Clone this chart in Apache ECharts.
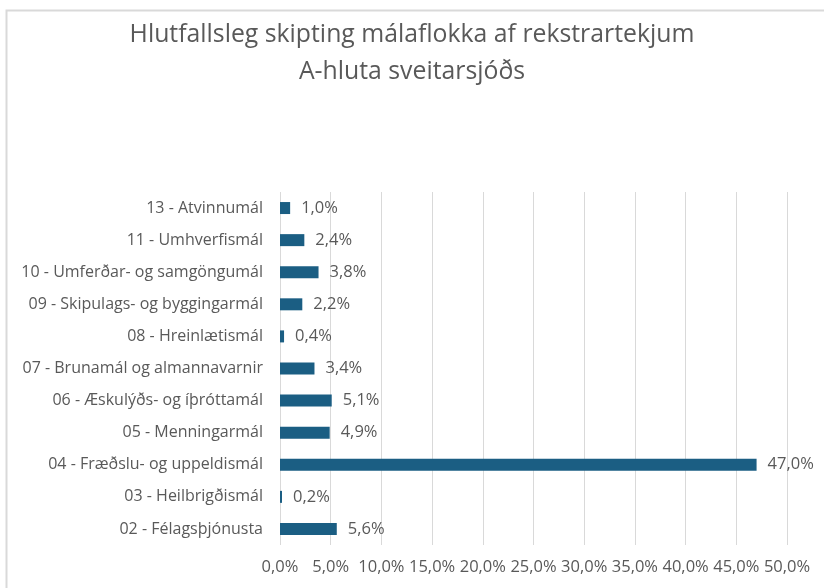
<!DOCTYPE html>
<html>
<head>
<meta charset="utf-8">
<script src="https://cdn.jsdelivr.net/npm/echarts@6/dist/echarts.min.js"></script>
<style>
html,body{margin:0;padding:0;background:#fff;}
#chart{width:824px;height:588px;}
</style>
</head>
<body>
<div id="chart"></div>
<script>
const titleLines = ['Hlutfallsleg skipting málaflokka af rekstrartekjum', 'A-hluta sveitarsjóðs'];
const categories = [
  '02 - Félagsþjónusta',
  '03 - Heilbrigðismál',
  '04 - Fræðslu- og uppeldismál',
  '05 - Menningarmál',
  '06 - Æskulýðs- og íþróttamál',
  '07 - Brunamál og almannavarnir',
  '08 - Hreinlætismál',
  '09 - Skipulags- og byggingarmál',
  '10 - Umferðar- og samgöngumál',
  '11 - Umhverfismál',
  '13 - Atvinnumál'
];
const values = [5.6, 0.2, 47.0, 4.9, 5.1, 3.4, 0.4, 2.2, 3.8, 2.4, 1.0];
const xMin = 0, xMax = 50, xStep = 5;

const fmt = v => v.toFixed(1).replace('.', ',') + '%';
const FONT = 'Open Sans';
const chart = echarts.init(document.getElementById('chart'), null, {renderer: 'canvas'});
chart.setOption({
  animation: false,
  backgroundColor: '#fff',
  title: {
    text: titleLines.join('\n'),
    left: 'center',
    top: 11,
    textStyle: {color: '#595959', fontSize: 24.8, fontWeight: 'normal', fontFamily: FONT, lineHeight: 37}
  },
  graphic: [{
    type: 'rect',
    shape: {x: 6.5, y: 10.5, width: 900, height: 700},
    style: {fill: 'none', stroke: '#d9d9d9', lineWidth: 2},
    silent: true
  }],
  grid: {left: 280, right: 37, top: 192, bottom: 43, containLabel: false},
  xAxis: {
    type: 'value', min: xMin, max: xMax, interval: xStep,
    axisLine: {show: false}, axisTick: {show: false},
    splitLine: {lineStyle: {color: '#d9d9d9', width: 1}},
    axisLabel: {formatter: v => fmt(v), color: '#595959', fontSize: 16.5, fontFamily: FONT, margin: 14}
  },
  yAxis: {
    type: 'category', data: categories,
    axisLine: {show: false}, axisTick: {show: false},
    axisLabel: {color: '#595959', fontSize: 16, fontFamily: FONT, margin: 17}
  },
  series: [{
    type: 'bar', data: values, barWidth: 12,
    itemStyle: {color: '#1B5E83'},
    label: {show: true, position: 'right', distance: 11, formatter: p => fmt(p.value), color: '#595959', fontSize: 16.5, fontFamily: FONT}
  }]
});
</script>
</body>
</html>
